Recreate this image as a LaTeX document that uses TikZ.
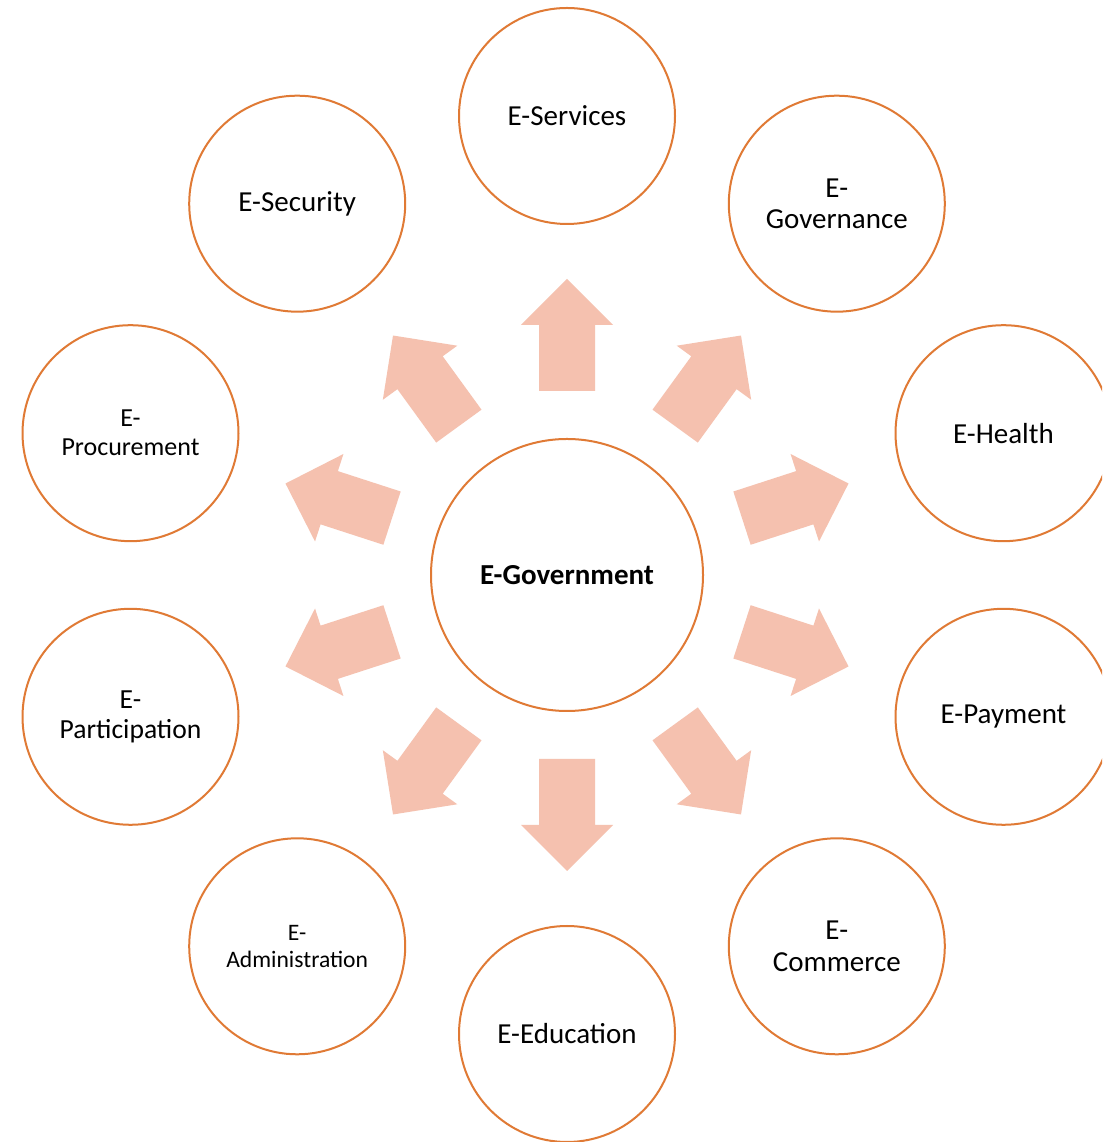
\documentclass[tikz,border=0pt]{standalone}
\usepackage{fontspec}
\setmainfont{Carlito}
\definecolor{ring}{HTML}{E07A35}
\definecolor{blockarrow}{RGB}{245,193,175}
\begin{document}
\begin{tikzpicture}[x=1pt,y=1pt,
  hub/.style={circle, draw=ring, line width=2pt, fill=white, minimum size=272pt, inner sep=0pt, font=\fontsize{29}{34}\selectfont\bfseries},
  spoke/.style={circle, draw=ring, line width=2pt, fill=white, minimum size=216pt, inner sep=0pt, align=center, font=\fontsize{29}{31}\selectfont},
  blockarr/.style={fill=blockarrow}
  ]
\clip (0,0) rectangle (1102,1142);
\useasboundingbox (0,0) rectangle (1102,1142);
\fill[white] (0,0) rectangle (1102,1142);

% block arrows
\foreach \a in {90,54,18,-18,-54,-90,-126,-162,162,126}{
  \begin{scope}[shift={(567,567)}, rotate=\a]
    \fill[blockarr] (184,-28) -- (250,-28) -- (250,-46) -- (296,0) -- (250,46) -- (250,28) -- (184,28) -- cycle;
  \end{scope}
}

\node[hub] (gov) at (567,567) {E-Government};

\node[spoke] (serv) at (567,1026) {E-Services};
\node[spoke] (govn) at (836.8,938.3) {E-\\Governance};
\node[spoke] (health) at (1003.5,708.8) {E-Health};
\node[spoke] (pay) at (1003.5,425.2) {E-Payment};
\node[spoke] (comm) at (836.8,195.7) {E-\\[1pt]Commerce};
\node[spoke] (edu) at (567,108) {E-Education};
\node[spoke, font=\fontsize{23.6}{27}\selectfont] (admin) at (297.2,195.7) {E-\\Administration};
\node[spoke, font=\fontsize{27.6}{30}\selectfont] (part) at (130.5,425.2) {E-\\Participation};
\node[spoke, font=\fontsize{26}{29}\selectfont] (proc) at (130.5,708.8) {E-\\Procurement};
\node[spoke] (sec) at (297.2,938.3) {E-Security};
\end{tikzpicture}
\end{document}
